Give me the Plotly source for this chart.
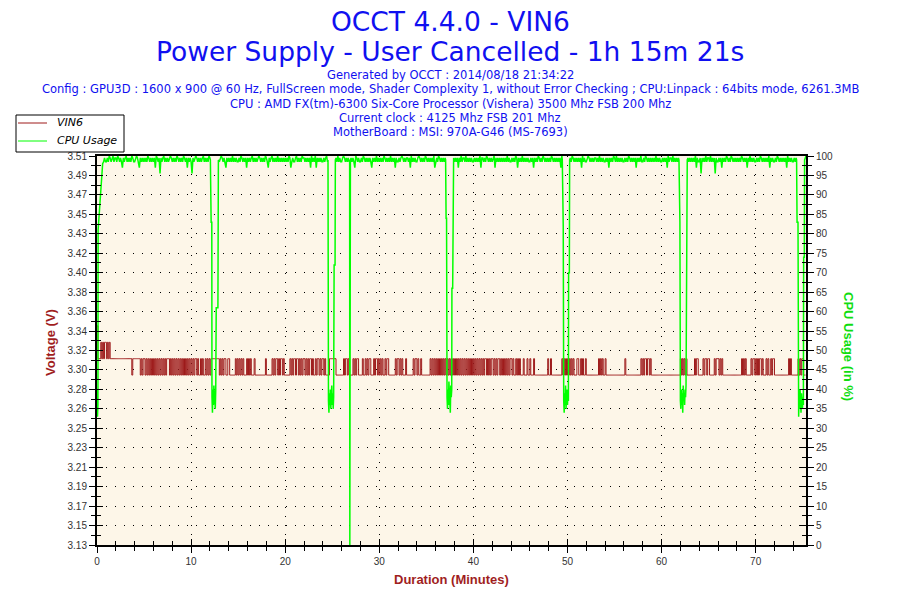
import plotly.graph_objects as go

########################################################################################
## DATA
########################################################################################

# VIN6 voltage, one char per 0.1 min sample, one group of 10 per minute
# 0 = 3.296 V, 1 = 3.312 V, 2 = 3.328 V, 3 = 3.344 V
vin6_levels = [3.296, 3.312, 3.328, 3.344]
vin6_step = 0.1
vin6_codes = (
    "3111212122 1212111111 1111111111 1111111011 1111110101 "
    "1010101010 1010101010 1010111010 1010101010 1010101010 "
    "1010110100 1010010101 0111111111 0101011001 1000000101 "
    "0101010001 0101000100 0000000001 0000001010 1101011010 "
    "0000010101 1011010101 1010101101 0010110101 1010000111 "
    "1111000000 0010110100 0010101100 0010010101 1000101101 "
    "0101001011 0000000101 1010100010 0000001011 0100100000 "
    "0000101010 1010101010 1010101010 1010101010 1010101010 "
    "1010101010 1011010101 1010101101 0101010101 1010010101 "
    "0001000100 1000100000 0000000001 0010000000 0000101010 "
    "1010101000 1100101001 0000000000 0001010100 1000000000 "
    "0000000000 0100000000 0000000010 1011011010 0000000000 "
    "0000000000 0000000000 1010101000 0000010110 0000101101 "
    "1000001011 1010100000 0000000000 0000010101 0000010110 "
    "1010110100 0101001011 0000000000 0000010100 0000010101 "
    "1000"
)

# CPU usage at full load, one char per 0.1 min sample
# 0 = 100 %, 1 = 99.5 %, 2 = 98.5 %, 3 = 97 %, 4 = 95.5 %
cpu_load_levels = [100, 99.5, 98.5, 97, 95.5]
cpu_step = 0.1
cpu_load_codes = (
    "1212101212 2120121021 1201212312 1021212012 2101231212 "
    "1212012121 2130121412 1021212101 2121201212 1201213121 "
    "2412101212 1210212120 1212101212 2101212312 1212021212 "
    "2120121213 1212102121 2101212120 1231210212 1202121212 "
    "1212013212 2102121201 1212121302 1203121212 2121021212 "
    "1212120212 2101212121 1212301212 2120121212 1231212021 "
    "2121201212 1202121312 2121012121 1213021212 2101212120 "
    "1212121203 2120121212 1212012121 2121312021 1202121212 "
    "2121212031 1212012121 2103121212 1212120212 2121201312 "
    "1202121212 2121312120 1212012121 2120121212 1213021212 "
    "2121201212 1212130212 2101212121 1212021212 2121312120 "
    "1202121212 2121201212 1213121202 2120121212 1212021212 "
    "2121213021 1202121212 2121201212 1212120312 2141212021 "
    "1202121412 2121312120 1212012121 2121201212 1312021212 "
    "2121201212 1212031212 2120121212 1213021212 2121201212 "
    "1212"
)

# CPU usage where the load stopped (GPU3D restarts), minutes / percent
cpu_dip_start_t = [0.0, 0.05, 0.1, 0.12, 0.2, 0.3, 0.45, 0.6]
cpu_dip_start_v = [40, 33, 36, 81, 84, 89, 94, 98]
cpu_dip1_t = [12.05, 12.13, 12.2, 12.22, 12.27, 12.32, 12.37, 12.42, 12.47, 12.52, 12.57, 12.62, 12.67, 12.85, 12.9]
cpu_dip1_v = [99, 83, 83, 38, 34, 40, 36, 41, 37, 39, 35, 40, 61, 61, 99]
cpu_dip2_t = [24.55, 24.6, 24.65, 24.7, 24.75, 24.8, 24.85, 24.9, 24.95, 25.0, 25.05, 25.1, 25.15, 25.2, 25.3, 25.33]
cpu_dip2_v = [99, 37, 34, 39, 36, 40, 35, 38, 41, 36, 39, 35, 38, 72, 72, 99]
cpu_dip3_t = [26.85, 26.87, 26.9, 26.93]
cpu_dip3_v = [99, 0, 48, 99]
cpu_dip4_t = [37.05, 37.1, 37.15, 37.2, 37.25, 37.3, 37.35, 37.4, 37.45, 37.5, 37.55, 37.6, 37.65, 37.7, 37.72, 37.8, 37.83]
cpu_dip4_v = [99, 84, 84, 38, 35, 40, 36, 42, 37, 39, 34, 41, 38, 40, 66, 66, 99]
cpu_dip5_t = [49.45, 49.5, 49.55, 49.6, 49.65, 49.7, 49.75, 49.8, 49.85, 49.9, 49.95, 50.0, 50.05, 50.1, 50.12, 50.2, 50.23]
cpu_dip5_v = [99, 82, 82, 37, 34, 39, 36, 41, 35, 38, 40, 36, 39, 37, 70, 70, 99]
cpu_dip6_t = [61.85, 61.9, 61.95, 62.0, 62.05, 62.1, 62.15, 62.2, 62.25, 62.3, 62.35, 62.4, 62.45, 62.5, 62.55, 62.6, 62.62, 62.7, 62.73]
cpu_dip6_v = [99, 83, 83, 37, 35, 40, 36, 39, 34, 41, 37, 39, 36, 40, 38, 41, 64, 64, 99]
cpu_dip7_t = [74.35, 74.4, 74.5, 74.52, 74.57, 74.62, 74.67, 74.72, 74.77, 74.82, 74.87, 74.92, 74.97, 75.02, 75.07, 75.1, 75.17, 75.2, 75.35]
cpu_dip7_v = [99, 83, 83, 38, 33, 39, 35, 40, 36, 34, 39, 37, 35, 38, 36, 74, 74, 99, 100]

cpu_dips = [
    (cpu_dip_start_t, cpu_dip_start_v),
    (cpu_dip1_t, cpu_dip1_v),
    (cpu_dip2_t, cpu_dip2_v),
    (cpu_dip3_t, cpu_dip3_v),
    (cpu_dip4_t, cpu_dip4_v),
    (cpu_dip5_t, cpu_dip5_v),
    (cpu_dip6_t, cpu_dip6_v),
    (cpu_dip7_t, cpu_dip7_v),
]

duration_end = 75.35  # 1h 15m 21s

voltage_tick_text = ["3.13", "3.15", "3.17", "3.19", "3.21", "3.23", "3.25", "3.26", "3.28", "3.30", "3.32",
                     "3.34", "3.36", "3.38", "3.40", "3.42", "3.43", "3.45", "3.47", "3.49", "3.51"]
voltage_min, voltage_max = 3.13, 3.51

title_lines = ["OCCT 4.4.0 - VIN6", "Power Supply - User Cancelled - 1h 15m 21s"]
info_lines = [
    "Generated by OCCT : 2014/08/18 21:34:22",
    "Config : GPU3D : 1600 x 900 @ 60 Hz, FullScreen mode, Shader Complexity 1, without Error Checking ; CPU:Linpack : 64bits mode, 6261.3MB",
    "CPU : AMD FX(tm)-6300 Six-Core Processor (Vishera) 3500 Mhz FSB 200 Mhz",
    "Current clock : 4125 Mhz FSB 201 Mhz",
    "MotherBoard : MSI: 970A-G46 (MS-7693)",
]
legend_names = ["VIN6", "CPU Usage"]

########################################################################################
## BUILD SERIES
########################################################################################
codes = vin6_codes.replace(" ", "")
vin6_t = [i * vin6_step for i in range(len(codes))]
vin6_v = [vin6_levels[int(c)] for c in codes]

load = cpu_load_codes.replace(" ", "")
points = []
for i, c in enumerate(load):
    t = i * cpu_step
    if any(dt[0] - 0.01 <= t <= dt[-1] + 0.01 for dt, dv in cpu_dips):
        continue
    points.append((t, cpu_load_levels[int(c)]))
for dt, dv in cpu_dips:
    points += list(zip(dt, dv))
points.sort()
cpu_t = [p[0] for p in points]
cpu_v = [p[1] for p in points]

########################################################################################
## FIGURE
########################################################################################
W, H = 900, 600
L, R, T, B = 97, 806, 156, 545   # plot area in pixels


def px(x):
    return (x - L) / (R - L)


def py(y):
    return (B - y) / (B - T)


BROWN = "#9e1b1b"
GREEN = "#00ff00"
TICK_FONT = dict(family="Liberation Sans", size=10, color="#333333")
step = (voltage_max - voltage_min) / (len(voltage_tick_text) - 1)
volt_ticks = [voltage_min + i * step for i in range(len(voltage_tick_text))]
volt_minor = [v + step / 2 for v in volt_ticks[:-1]]

fig = go.Figure()
fig.add_trace(go.Scatter(x=vin6_t, y=vin6_v, name=legend_names[0], mode="lines",
                         line=dict(color=BROWN, width=1, shape="hv"), yaxis="y"))
fig.add_trace(go.Scatter(x=cpu_t, y=cpu_v, name=legend_names[1], mode="lines",
                         line=dict(color=GREEN, width=1.5), yaxis="y2"))
# empty traces so the inside-tick overlay axes get drawn
fig.add_trace(go.Scatter(x=[], y=[], xaxis="x2", yaxis="y3", hoverinfo="skip"))
fig.add_trace(go.Scatter(x=[], y=[], xaxis="x2", yaxis="y4", hoverinfo="skip"))

grid = dict(showgrid=True, gridcolor="black", gridwidth=1, griddash="1px,8px")

fig.update_layout(
    width=W, height=H,
    margin=dict(l=L, r=W - R, t=T, b=H - B, autoexpand=False),
    paper_bgcolor="white", plot_bgcolor="#fdf6e8",
    showlegend=False,
    xaxis=dict(range=[0, duration_end], tickvals=[0, 10, 20, 30, 40, 50, 60, 70], zeroline=False,
               showline=True, linecolor="black", linewidth=2, mirror=True,
               ticks="outside", ticklen=6, tickcolor="black", tickfont=TICK_FONT,
               minor=dict(ticks="outside", ticklen=4, dtick=2, tick0=0, tickcolor="black"), **grid),
    xaxis2=dict(range=[0, duration_end], overlaying="x", anchor="y", side="bottom",
                tickvals=[0, 10, 20, 30, 40, 50, 60, 70], ticks="inside", ticklen=6, tickcolor="black",
                showticklabels=False, showgrid=False, showline=False, zeroline=False,
                minor=dict(ticks="inside", ticklen=4, dtick=2, tick0=0, tickcolor="black")),
    yaxis=dict(range=[voltage_min, voltage_max], tickvals=volt_ticks, ticktext=voltage_tick_text,
               zeroline=False, showline=True, linecolor="black", linewidth=2, mirror=True,
               ticks="outside", ticklen=6, tickcolor="black", tickfont=TICK_FONT,
               minor=dict(ticks="outside", ticklen=4, tickvals=volt_minor, tickcolor="black"), **grid),
    yaxis2=dict(range=[0, 100], dtick=5, overlaying="y", side="right", anchor="x",
                showline=True, linecolor="black", linewidth=2, showgrid=False, zeroline=False,
                ticks="outside", ticklen=6, tickcolor="black", tickfont=TICK_FONT,
                minor=dict(ticks="outside", ticklen=4, dtick=2.5, tickcolor="black")),
    yaxis3=dict(range=[voltage_min, voltage_max], overlaying="y", side="left", anchor="x2",
                tickvals=volt_ticks, ticks="inside", ticklen=6, tickcolor="black",
                showticklabels=False, showgrid=False, showline=False, zeroline=False,
                minor=dict(ticks="inside", ticklen=4, tickvals=volt_minor, tickcolor="black")),
    yaxis4=dict(range=[0, 100], dtick=5, overlaying="y", side="right", anchor="x2",
                ticks="inside", ticklen=6, tickcolor="black",
                showticklabels=False, showgrid=False, showline=False, zeroline=False,
                minor=dict(ticks="inside", ticklen=4, dtick=2.5, tickcolor="black")),
)

# titles
for i, text in enumerate(title_lines):
    fig.add_annotation(text=text, xref="paper", yref="paper", x=px(450), y=py(21 + 30 * i),
                       xanchor="center", yanchor="middle", showarrow=False,
                       font=dict(family="DejaVu Sans", size=26.5, color="#1010f0"))
for i, text in enumerate(info_lines):
    fig.add_annotation(text=text, xref="paper", yref="paper", x=px(450), y=py(75 + 14.3 * i),
                       xanchor="center", yanchor="middle", showarrow=False,
                       font=dict(family="DejaVu Sans", size=11.5, color="#1010f0"))

# axis titles
fig.add_annotation(text="<b>Voltage (V)</b>", xref="paper", yref="paper", x=px(50), y=py(343),
                   xanchor="center", yanchor="middle", textangle=-90, showarrow=False,
                   font=dict(family="Liberation Sans", size=13, color="#a01e1e"))
fig.add_annotation(text="<b>CPU Usage (in %)</b>", xref="paper", yref="paper", x=px(849), y=py(347),
                   xanchor="center", yanchor="middle", textangle=90, showarrow=False,
                   font=dict(family="Liberation Sans", size=13, color="#10dd10"))
fig.add_annotation(text="<b>Duration (Minutes)</b>", xref="paper", yref="paper", x=px(451), y=py(579),
                   xanchor="center", yanchor="middle", showarrow=False,
                   font=dict(family="Liberation Sans", size=13, color="#a01e1e"))

# legend box, drawn by hand so it is as compact as the original
fig.add_shape(type="rect", xref="paper", yref="paper", x0=px(16), x1=px(124), y0=py(152), y1=py(115),
              line=dict(color="black", width=1), fillcolor="white", layer="above")
for i, (name, color) in enumerate(zip(legend_names, [BROWN, GREEN])):
    yy = 123 + 18 * i
    fig.add_shape(type="line", xref="paper", yref="paper", x0=px(18), x1=px(47), y0=py(yy), y1=py(yy),
                  line=dict(color=color, width=1), layer="above")
    fig.add_annotation(text="<i>" + name + "</i>", xref="paper", yref="paper", x=px(55), y=py(yy),
                       xanchor="left", yanchor="middle", showarrow=False,
                       font=dict(family="DejaVu Sans", size=11, color="black"))

fig.write_html("out.html", config={"displayModeBar": False},
               post_script="document.body.style.margin = '0';")
